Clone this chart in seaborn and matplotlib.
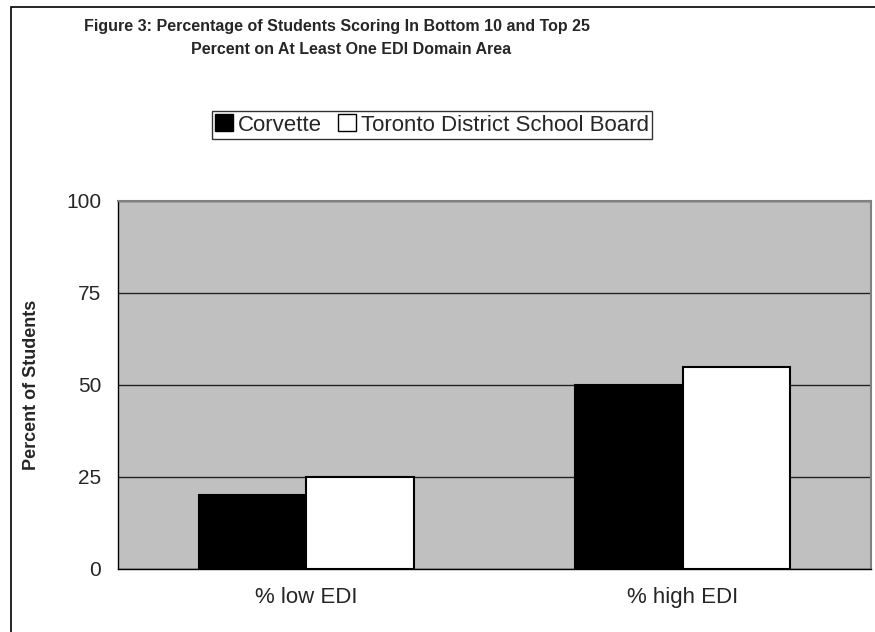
import matplotlib
matplotlib.use("Agg")
import matplotlib.pyplot as plt
import matplotlib.patches as mpatches
from matplotlib.ticker import FixedLocator
import pandas as pd
import seaborn as sns

categories = ["% low EDI", "% high EDI"]
corvette = [20, 50]
tdsb = [25, 55]
series_names = ["Corvette", "Toronto District School Board"]
yticks = [0, 25, 50, 75, 100]
title_lines = ["Figure 3: Percentage of Students Scoring In Bottom 10 and Top 25",
               "Percent on At Least One EDI Domain Area"]

df = pd.DataFrame({
    "category": categories * 2,
    "group": [series_names[0]] * 2 + [series_names[1]] * 2,
    "value": corvette + tdsb,
})

sns.set_style("white")
plt.rcParams["font.family"] = ["Liberation Sans", "DejaVu Sans"]

fig = plt.figure(figsize=(8.75, 6.32), dpi=100)
W, H = 875, 632
ax = fig.add_axes([118 / W, 1 - 569 / H, (871 - 118) / W, (569 - 201) / H])
ax.set_facecolor("#c0c0c0")

sns.barplot(data=df, x="category", y="value", hue="group",
            palette=["black", "white"], edgecolor="black", linewidth=1.5,
            width=0.57, gap=0, ax=ax, legend=False, zorder=3)

ax.set_ylim(0, 100)
ax.set_xlim(-0.5, 1.5)
ax.set_yticks(yticks)
ax.yaxis.grid(True, color="#222222", linewidth=1, zorder=0)
ax.set_axisbelow(True)
ax.tick_params(axis="y", direction="out", length=8, width=1, labelsize=15, pad=4, color="black")
ax.tick_params(axis="x", which="major", length=0, labelsize=16, pad=13)
ax.xaxis.set_minor_locator(FixedLocator([-0.5, 0.5, 1.5]))
ax.tick_params(axis="x", which="minor", direction="out", length=7, width=1, color="black")
ax.set_xlabel("")
ax.set_ylabel("Percent of Students", fontsize=13, fontweight="bold")
ax.yaxis.set_label_coords(-0.104, 0.5)

for side in ["left", "bottom"]:
    ax.spines[side].set_color("black")
    ax.spines[side].set_linewidth(1)
for side in ["top", "right"]:
    ax.spines[side].set_color("#808080")
    ax.spines[side].set_linewidth(1.5)
    ax.spines[side].set_visible(True)

# title lines are centred separately, as in the original
fig.text(337 / W, 1 - 27 / H, title_lines[0], ha="center", va="center",
         fontsize=11.5, fontweight="bold")
fig.text(351 / W, 1 - 50 / H, title_lines[1], ha="center", va="center",
         fontsize=11.5, fontweight="bold")

handles = [mpatches.Patch(facecolor="black", edgecolor="black", label=series_names[0]),
           mpatches.Patch(facecolor="white", edgecolor="black", label=series_names[1])]
leg = fig.legend(handles=handles, loc="center", bbox_to_anchor=(432 / W, 1 - 125 / H),
                 ncol=2, fontsize=16, frameon=True, fancybox=False, handlelength=0.8,
                 handleheight=0.8, handletextpad=0.25, columnspacing=0.7,
                 borderpad=0.15, borderaxespad=0)
leg.get_frame().set_edgecolor("black")
leg.get_frame().set_linewidth(1)

border = mpatches.Rectangle((11 / W, -0.05), 1.1, 1 - 7 / H + 0.05, transform=fig.transFigure,
                            fill=False, edgecolor="black", linewidth=1.2, clip_on=False)
fig.patches.append(border)

fig.savefig("out.png", dpi=100)
